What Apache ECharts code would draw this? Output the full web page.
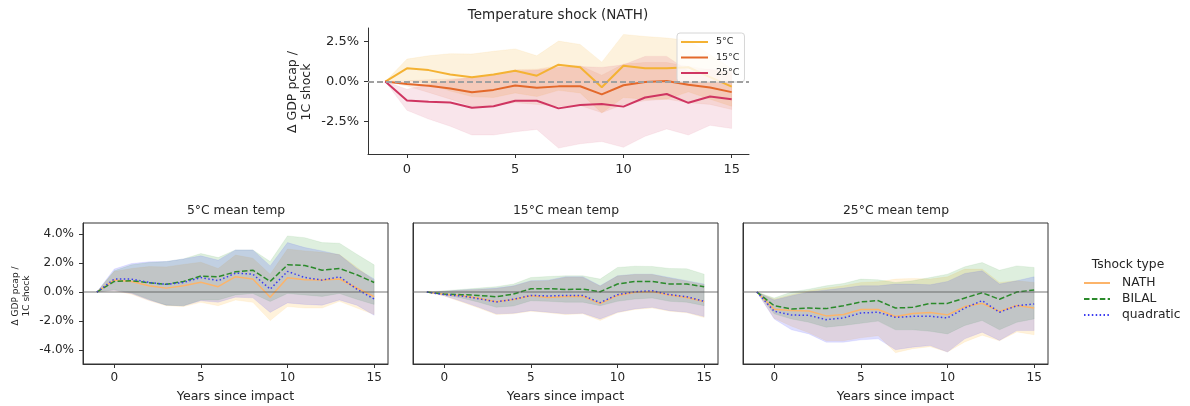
<!DOCTYPE html>
<html>
<head>
<meta charset="utf-8">
<script src="https://cdn.jsdelivr.net/npm/echarts@6/dist/echarts.min.js"></script>
<style>
  html, body { margin: 0; padding: 0; background: #fff; }
  #chart { width: 1190px; height: 406px; }
</style>
</head>
<body>
<div id="chart"></div>
<script>
// ---------------- DATA ----------------
const years = [-1, 0, 1, 2, 3, 4, 5, 6, 7, 8, 9, 10, 11, 12, 13, 14, 15];
const topTicksY = [-2.5, 0, 2.5];
const bottomTicksY = [-4, -2, 0, 2, 4];
const ticksX = [0, 5, 10, 15];

// NATH temperature shock responses (%), by mean temperature
const nath5      = [0, 0.83, 0.72, 0.44, 0.27, 0.44, 0.68, 0.37, 1.06, 0.90, -0.36, 0.99, 0.84, 0.83, 0.90, 0.28, -0.32];
const nath5Upper = [0, 1.41, 1.62, 1.75, 1.73, 1.90, 2.05, 1.62, 2.54, 2.33, 1.22, 2.96, 2.83, 2.73, 2.58, 1.70, 0.80];
const nath5Lower = [0, 0.09, -0.15, -0.59, -0.94, -1.00, -0.71, -0.94, -0.55, -0.71, -1.96, -1.00, -1.10, -1.10, -0.64, -1.10, -1.55];

const nath15      = [0, -0.15, -0.26, -0.43, -0.67, -0.52, -0.25, -0.38, -0.30, -0.29, -0.80, -0.23, -0.02, 0.04, -0.20, -0.37, -0.66];
const nath15Upper = [0, 0.05, 0.12, 0.17, 0.23, 0.40, 0.75, 0.78, 1.00, 1.00, 0.40, 1.10, 1.20, 1.20, 0.95, 0.75, 0.50];
const nath15Lower = [0, -0.28, -0.68, -1.10, -1.55, -1.50, -1.32, -1.43, -1.55, -1.50, -1.95, -1.43, -1.20, -1.10, -1.32, -1.43, -1.75];

const nath25      = [0, -1.18, -1.27, -1.31, -1.64, -1.55, -1.20, -1.20, -1.68, -1.47, -1.40, -1.57, -1.00, -0.78, -1.33, -0.93, -1.10];
const nath25Upper = [0, -0.48, -0.18, 0.09, 0.27, 0.43, 0.66, 0.71, 0.89, 0.94, 0.89, 1.05, 1.58, 1.58, 0.66, 0.78, 0.66];
const nath25Lower = [0, -1.80, -2.35, -2.80, -3.35, -3.35, -3.15, -3.00, -4.17, -3.90, -3.76, -4.12, -3.43, -2.97, -3.35, -2.74, -2.94];

// BILAL
const bilal5      = [0, 0.73, 0.78, 0.64, 0.53, 0.73, 1.10, 1.05, 1.39, 1.50, 0.73, 1.87, 1.83, 1.50, 1.62, 1.19, 0.66];
const bilal5Upper = [0, 1.46, 1.87, 2.03, 2.10, 2.28, 2.65, 2.37, 2.90, 2.90, 2.10, 3.86, 3.74, 3.40, 3.36, 2.60, 1.87];
const bilal5Lower = [0, 0.15, -0.05, -0.50, -0.90, -0.95, -0.55, -0.55, -0.20, -0.10, -0.65, -0.10, -0.20, -0.30, -0.10, -0.50, -0.85];

const bilal15      = [0, -0.14, -0.18, -0.23, -0.32, -0.14, 0.23, 0.23, 0.18, 0.20, 0.02, 0.55, 0.73, 0.73, 0.55, 0.55, 0.37];
const bilal15Upper = [0, 0.09, 0.18, 0.27, 0.37, 0.55, 1.00, 1.07, 1.12, 1.12, 0.89, 1.69, 1.78, 1.76, 1.62, 1.60, 1.23];
const bilal15Lower = [0, -0.20, -0.41, -0.70, -1.05, -0.96, -0.60, -0.64, -0.70, -0.70, -0.94, -0.64, -0.48, -0.41, -0.64, -0.70, -0.94];

const bilal25      = [0, -0.94, -1.16, -1.10, -1.14, -0.94, -0.68, -0.59, -1.10, -1.05, -0.78, -0.78, -0.41, -0.05, -0.50, 0.00, 0.14];
const bilal25Upper = [0, -0.41, 0.00, 0.20, 0.43, 0.59, 0.89, 0.84, 0.66, 0.78, 1.00, 1.23, 1.74, 2.03, 1.50, 1.80, 1.69];
const bilal25Lower = [0, -1.50, -1.85, -2.08, -2.42, -2.30, -2.15, -2.00, -2.60, -2.60, -2.70, -2.88, -2.30, -1.96, -2.60, -2.08, -1.85];

// quadratic
const quad5      = [0, 0.89, 0.89, 0.66, 0.53, 0.66, 1.00, 0.78, 1.30, 1.23, 0.20, 1.42, 1.00, 0.82, 1.05, 0.20, -0.48];
const quad5Upper = [0, 1.58, 1.96, 2.08, 2.10, 2.28, 2.49, 2.19, 2.90, 2.90, 1.80, 3.40, 3.06, 2.83, 2.56, 1.60, 0.90];
const quad5Lower = [0, 0.10, -0.10, -0.55, -0.90, -0.95, -0.60, -0.70, -0.35, -0.40, -1.40, -0.75, -0.85, -0.90, -0.55, -0.90, -1.60];

const quad15      = [0, -0.18, -0.27, -0.46, -0.68, -0.50, -0.23, -0.27, -0.23, -0.23, -0.73, -0.18, 0.02, 0.09, -0.18, -0.32, -0.64];
const quad15Upper = [0, 0.05, 0.14, 0.20, 0.27, 0.43, 0.78, 0.82, 1.05, 1.05, 0.43, 1.12, 1.23, 1.23, 1.00, 0.78, 0.55];
const quad15Lower = [0, -0.25, -0.64, -1.05, -1.50, -1.46, -1.28, -1.39, -1.50, -1.46, -1.85, -1.39, -1.16, -1.05, -1.28, -1.39, -1.69];

const quad25      = [0, -1.32, -1.58, -1.60, -1.90, -1.78, -1.44, -1.39, -1.74, -1.67, -1.67, -1.78, -1.10, -0.59, -1.39, -0.94, -0.82];
const quad25Upper = [0, -0.55, -0.25, 0.00, 0.14, 0.27, 0.43, 0.43, 0.55, 0.55, 0.50, 0.73, 1.28, 1.46, 0.55, 0.78, 1.05];
const quad25Lower = [0, -1.85, -2.60, -2.88, -3.45, -3.45, -3.29, -3.22, -3.97, -3.79, -3.68, -4.13, -3.22, -2.76, -3.33, -2.65, -2.65];

// ---------------- STYLE ----------------
const FONT = '"DejaVu Sans", sans-serif';
const TXT = '#262626';
const AX = '#333333';
const C5 = '#f4b233', C15 = '#e3692b', C25 = '#cf3561';
const CN = '#ffa500', CB = '#008000', CQ = '#0000ff';
const LN = '#fcb46a', LB = '#2b8a2b', LQ = '#3b3bf0';

const pct = v => v.toFixed(1) + '%';

function xAxisDef(gi, fs, margin, withName) {
  return {
    type: 'value', gridIndex: gi, min: -1.8, max: 15.8,
    splitLine: { show: false },
    axisLine: { show: true, onZero: false, lineStyle: { color: AX, width: 1 } },
    axisTick: { show: true, length: 4, lineStyle: { color: AX }, customValues: ticksX },
    axisLabel: { show: true, customValues: ticksX, fontFamily: FONT, fontSize: fs, color: TXT, margin: margin },
    name: withName ? 'Years since impact' : '',
    nameLocation: 'middle', nameGap: 26,
    nameTextStyle: { fontFamily: FONT, fontSize: 12.6, color: TXT }
  };
}
function yAxisDef(gi, min, max, ticks, showLabels, fs) {
  return {
    type: 'value', gridIndex: gi, min: min, max: max,
    splitLine: { show: false },
    axisLine: { show: true, onZero: false, lineStyle: { color: AX, width: 1 } },
    axisTick: { show: showLabels, length: 4, lineStyle: { color: AX }, customValues: ticks },
    axisLabel: { show: showLabels, customValues: ticks, formatter: pct, fontFamily: FONT, fontSize: fs, color: TXT, margin: 9 }
  };
}

function band(name, ai, lower, upper, color, alpha) {
  return {
    type: 'custom', name: name, xAxisIndex: ai, yAxisIndex: ai,
    silent: true, animation: false, z: 1,
    data: [[years[0], 0]],
    renderItem: function (params, api) {
      const pts = [];
      for (let i = 0; i < years.length; i++) pts.push(api.coord([years[i], upper[i]]));
      for (let i = years.length - 1; i >= 0; i--) pts.push(api.coord([years[i], lower[i]]));
      return {
        type: 'group',
        children: [
          { type: 'polygon', shape: { points: pts }, style: { fill: color, opacity: alpha, stroke: null } },
          { type: 'polygon', shape: { points: pts }, style: { fill: null, stroke: color, lineWidth: 1, opacity: alpha * 0.5 } }
        ]
      };
    }
  };
}
function line(name, ai, vals, color, width, type, z) {
  return {
    type: 'line', name: name, xAxisIndex: ai, yAxisIndex: ai,
    data: years.map((x, i) => [x, vals[i]]),
    symbol: 'none', animation: false, z: z || 3,
    lineStyle: { color: color, width: width, type: type },
    itemStyle: { color: 'rgba(0,0,0,0)' }
  };
}
function zeroLine(ai, color, width, type) {
  return {
    type: 'line', name: 'zero' + ai, xAxisIndex: ai, yAxisIndex: ai, data: [],
    symbol: 'none', animation: false, silent: true,
    markLine: {
      silent: true, symbol: 'none', animation: false, label: { show: false },
      lineStyle: { color: color, width: width, type: type },
      data: [{ yAxis: 0 }]
    }
  };
}

const series = [
  // top chart
  band('5 band', 0, nath5Lower, nath5Upper, C5, 0.17),
  band('15 band', 0, nath15Lower, nath15Upper, C15, 0.12),
  band('25 band', 0, nath25Lower, nath25Upper, C25, 0.13),
  zeroLine(0, '#a0a0a0', 2, [6, 3]),
  line('5°C', 0, nath5, C5, 2),
  line('15°C', 0, nath15, C15, 2),
  line('25°C', 0, nath25, C25, 2),
];
const panels = [
  [nath5, nath5Lower, nath5Upper, bilal5, bilal5Lower, bilal5Upper, quad5, quad5Lower, quad5Upper],
  [nath15, nath15Lower, nath15Upper, bilal15, bilal15Lower, bilal15Upper, quad15, quad15Lower, quad15Upper],
  [nath25, nath25Lower, nath25Upper, bilal25, bilal25Lower, bilal25Upper, quad25, quad25Lower, quad25Upper]
];
panels.forEach((p, k) => {
  const ai = k + 1;
  series.push(band('NATH band', ai, p[1], p[2], CN, 0.14));
  series.push(band('BILAL band', ai, p[4], p[5], CB, 0.13));
  series.push(band('quadratic band', ai, p[7], p[8], CQ, 0.13));
  series.push(zeroLine(ai, 'rgba(90,90,90,0.55)', 1.5, 'solid'));
  series.push(line('NATH', ai, p[0], LN, 1.5, 'solid'));
  series.push(line('BILAL', ai, p[3], LB, 1.5, [5.5, 2.4]));
  series.push(line('quadratic', ai, p[6], LQ, 1.5, [1.5, 2.4]));
});

const grids = [
  { left: 368, top: 28, width: 381, height: 126, show: false },
  { left: 83, top: 223, width: 305, height: 141, show: true, borderColor: AX, borderWidth: 1 },
  { left: 413, top: 223, width: 305, height: 141, show: true, borderColor: AX, borderWidth: 1 },
  { left: 743, top: 223, width: 305, height: 141, show: true, borderColor: AX, borderWidth: 1 }
];

const option = {
  backgroundColor: '#ffffff',
  animation: false,
  grid: grids,
  xAxis: [
    xAxisDef(0, 13, 9, false),
    xAxisDef(1, 12, 8, true),
    xAxisDef(2, 12, 8, true),
    xAxisDef(3, 12, 8, true)
  ],
  yAxis: [
    yAxisDef(0, -4.54, 3.36, topTicksY, true, 13),
    yAxisDef(1, -4.95, 4.75, bottomTicksY, true, 12),
    yAxisDef(2, -4.95, 4.75, bottomTicksY, false, 12),
    yAxisDef(3, -4.95, 4.75, bottomTicksY, false, 12)
  ],
  legend: [
    {
      data: ['5°C', '15°C', '25°C'], orient: 'vertical', left: 677, top: 33,
      padding: [4, 5, 4, 3], itemWidth: 27, itemHeight: 10, itemGap: 5.5,
      borderColor: '#d6d6d6', borderWidth: 1, borderRadius: 3,
      backgroundColor: 'rgba(255,255,255,0.8)',
      textStyle: { fontFamily: FONT, fontSize: 9.5, color: TXT, padding: [0, 0, 0, 3] },
      selectedMode: false
    },
    {
      data: ['NATH', 'BILAL', 'quadratic'], orient: 'vertical', left: 1083, top: 277,
      padding: 0, itemWidth: 26, itemHeight: 12, itemGap: 4,
      textStyle: { fontFamily: FONT, fontSize: 12.3, color: TXT, padding: [0, 0, 0, 7] },
      selectedMode: false
    }
  ],
  graphic: [
    { type: 'text', x: 558, y: 15, style: { text: 'Temperature shock (NATH)', font: '13.5px ' + FONT, fill: TXT, align: 'center', verticalAlign: 'middle' } },
    { type: 'text', x: 236, y: 211, style: { text: '5°C mean temp', font: '12.4px ' + FONT, fill: TXT, align: 'center', verticalAlign: 'middle' } },
    { type: 'text', x: 566, y: 211, style: { text: '15°C mean temp', font: '12.4px ' + FONT, fill: TXT, align: 'center', verticalAlign: 'middle' } },
    { type: 'text', x: 896, y: 211, style: { text: '25°C mean temp', font: '12.4px ' + FONT, fill: TXT, align: 'center', verticalAlign: 'middle' } },
    { type: 'text', x: 300, y: 92, rotation: Math.PI / 2, style: { text: 'Δ GDP pcap /\n1C shock', font: '12.5px ' + FONT, lineHeight: 14, fill: TXT, align: 'center', verticalAlign: 'middle' } },
    { type: 'text', x: 21, y: 296, rotation: Math.PI / 2, style: { text: 'Δ GDP pcap /\n1C shock', font: '9px ' + FONT, lineHeight: 11, fill: TXT, align: 'center', verticalAlign: 'middle' } },
    { type: 'text', x: 1128, y: 265, style: { text: 'Tshock type', font: '12.3px ' + FONT, fill: TXT, align: 'center', verticalAlign: 'middle' } }
  ],
  series: series
};

const chart = echarts.init(document.getElementById('chart'), null, { renderer: 'canvas' });
chart.setOption(option);
</script>
</body>
</html>
